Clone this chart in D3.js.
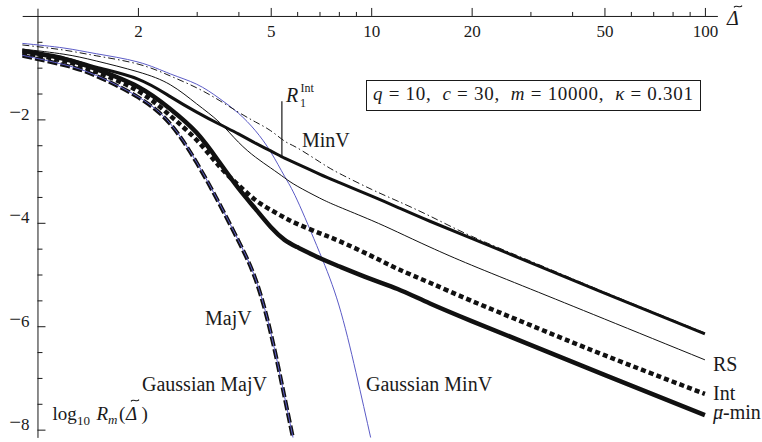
<!DOCTYPE html>
<html lang="en">

<head>
    <meta charset="UTF-8">
    <title>log10 Rm</title>
    <script src="https://cdnjs.cloudflare.com/ajax/libs/d3/7.8.5/d3.min.js"></script>
    <style>
        body { margin: 0; background: #fff; }
        svg text { font-family: "Liberation Serif", "DejaVu Serif", serif; fill: #1a1a1a; }
    </style>
</head>

<body>
    <svg id="chart" width="762" height="442"></svg>

    <script>
        // Delta values shared by the five long curves
        var deltas = [0.9, 1.2, 1.5, 2, 2.5, 3, 3.5, 4, 4.5, 5, 5.5, 6, 7, 8, 10, 12, 15, 20, 30, 50, 100];
        var minV = [-0.66, -0.81, -0.99, -1.22, -1.56, -1.86, -2.09, -2.28, -2.46, -2.61, -2.75, -2.86, -3.06, -3.22, -3.48, -3.70, -3.97, -4.30, -4.77, -5.36, -6.15];
        var minVDashDot = [-0.56, -0.66, -0.77, -0.93, -1.16, -1.39, -1.63, -1.86, -2.05, -2.22, -2.42, -2.55, -2.82, -3.04, -3.35, -3.58, -3.87, -4.26, -4.74, -5.34, -6.13];
        var rs = [-0.64, -0.74, -0.87, -1.08, -1.33, -1.70, -2.05, -2.44, -2.73, -2.94, -3.13, -3.29, -3.52, -3.69, -3.95, -4.18, -4.47, -4.82, -5.28, -5.86, -6.65];
        var intV = [-0.71, -0.87, -1.08, -1.45, -1.93, -2.40, -2.90, -3.27, -3.56, -3.75, -3.90, -4.02, -4.20, -4.35, -4.64, -4.89, -5.16, -5.51, -5.98, -6.56, -7.31];
        var muMin = [-0.68, -0.83, -1.03, -1.37, -1.80, -2.26, -2.82, -3.33, -3.73, -4.08, -4.33, -4.47, -4.68, -4.84, -5.09, -5.28, -5.56, -5.90, -6.36, -6.94, -7.72];

        // Gaussian MinV
        var gaussMinVDeltas = [0.9, 1.2, 1.5, 2, 2.5, 3, 3.5, 4, 4.5, 5, 5.5, 6, 7, 8, 9, 10];
        var gaussMinV = [-0.53, -0.62, -0.73, -0.89, -1.12, -1.32, -1.59, -1.88, -2.22, -2.63, -3.10, -3.56, -4.57, -5.59, -6.89, -8.20];

        // MajV and Gaussian MajV (almost on top of each other)
        var majVDeltas = [0.9, 1.2, 1.5, 2, 2.5, 3, 3.5, 4, 4.5, 5, 5.5, 6];
        var majV = [-0.77, -0.95, -1.16, -1.57, -2.09, -2.84, -3.62, -4.35, -5.09, -6.13, -7.37, -8.55];
        var gaussMajV = [-0.76, -0.94, -1.15, -1.56, -2.08, -2.83, -3.61, -4.34, -5.08, -6.12, -7.36, -8.54];

        var xMajorTicks = [2, 5, 10, 20, 50, 100];
        var xMinorTicks = [3, 4, 6, 7, 8, 9, 30, 40, 60, 70, 80, 90];
        var yMajorTicks = [-2, -4, -6, -8];
        var yMinorTicks = [-0.5, -1, -1.5, -2.5, -3, -3.5, -4.5, -5, -5.5, -6.5, -7, -7.5];
        var r1Int = 5.4;

        var svg = d3.select("#chart");

        var x = d3.scaleLog()
            .domain([0.9, 109])
            .range([22.2, 717.4]);
        var y = d3.scaleLinear()
            .domain([0.15, -8.15])
            .range([8.2, 437.4]);

        function pairs(xs, ys) {
            return xs.map(function (d, i) { return [d, ys[i]]; });
        }

        var series = [
            { name: "gaussMinV", values: pairs(gaussMinVDeltas, gaussMinV), color: "#5b5bc6", width: 1, dash: null },
            { name: "minVDashDot", values: pairs(deltas, minVDashDot), color: "#1a1a1a", width: 1, dash: "7,3,1.5,3" },
            { name: "rs", values: pairs(deltas, rs), color: "#111", width: 1, dash: null },
            { name: "minV", values: pairs(deltas, minV), color: "#111", width: 3, dash: null },
            { name: "int", values: pairs(deltas, intV), color: "#111", width: 4.5, dash: "5,3.2" },
            { name: "muMin", values: pairs(deltas, muMin), color: "#111", width: 4.5, dash: null },
            { name: "majV", values: pairs(majVDeltas, majV), color: "#111", width: 4, dash: "10,3" },
            { name: "gaussMajV", values: pairs(majVDeltas, gaussMajV), color: "#5b5bc6", width: 1, dash: null }
        ];

        svg.append("clipPath").attr("id", "plotClip")
            .append("rect")
            .attr("x", x.range()[0]).attr("y", y.range()[0])
            .attr("width", x.range()[1] - x.range()[0])
            .attr("height", y.range()[1] - y.range()[0]);

        // top x axis (sits at log10 R = 0), ticks up, labels below
        svg.append("g")
            .attr("transform", "translate(0," + y(0) + ")")
            .call(d3.axisBottom(x).tickValues(xMajorTicks).tickFormat(d3.format("d"))
                .tickSizeInner(-8).tickSizeOuter(0).tickPadding(9));
        svg.append("g")
            .attr("transform", "translate(0," + y(0) + ")")
            .call(d3.axisBottom(x).tickValues(xMinorTicks).tickFormat("")
                .tickSizeInner(-4).tickSizeOuter(0))
            .call(function (g) { g.select(".domain").remove(); });

        // y axis at Delta = 1, ticks to the right, labels on the left
        var yAxisG = svg.append("g")
            .attr("transform", "translate(" + x(1) + ",0)")
            .call(d3.axisLeft(y).tickValues(yMajorTicks).tickFormat("")
                .tickSizeInner(-8).tickSizeOuter(0).tickPadding(8));
        svg.append("g")
            .attr("transform", "translate(" + x(1) + ",0)")
            .call(d3.axisLeft(y).tickValues(yMinorTicks).tickFormat("")
                .tickSizeInner(-5).tickSizeOuter(0))
            .call(function (g) { g.select(".domain").remove(); });

        svg.selectAll(".domain, .tick line").attr("stroke", "#1a1a1a").attr("stroke-width", 1);
        svg.selectAll(".tick text")
            .style("font-family", "Liberation Serif")
            .style("font-size", "17px")
            .attr("fill", "#1a1a1a");

        // y labels: a wide math minus followed by the digit
        yAxisG.selectAll(".tick text")
            .attr("dy", "0.35em")
            .each(function (d) {
                var t = d3.select(this);
                t.append("tspan").style("font-size", "21px").attr("dy", "-0.05em").text("\u2212");
                t.append("tspan").attr("dy", "0.05em").text(Math.abs(d));
            });

        // curves
        var line = d3.line()
            .x(function (d) { return x(d[0]); })
            .y(function (d) { return y(d[1]); })
            .curve(d3.curveNatural);

        svg.append("g")
            .attr("clip-path", "url(#plotClip)")
            .selectAll("path")
            .data(series)
            .enter()
            .append("path")
            .attr("class", function (d) { return d.name; })
            .attr("d", function (d) { return line(d.values); })
            .attr("fill", "none")
            .attr("stroke", function (d) { return d.color; })
            .attr("stroke-width", function (d) { return d.width; })
            .attr("stroke-dasharray", function (d) { return d.dash; });

        // R1^Int marker on the MinV curve
        var minVAtR1 = d3.scaleLog().domain(deltas).range(minV)(r1Int);
        svg.append("line")
            .attr("x1", x(r1Int)).attr("x2", x(r1Int))
            .attr("y1", y(minVAtR1)).attr("y2", y(-1.65))
            .attr("stroke", "#1a1a1a").attr("stroke-width", 1.2);

        svg.append("text").attr("x", 286).attr("y", 102)
            .style("font-size", "20px").style("font-style", "italic").text("R");
        svg.append("text").attr("x", 300).attr("y", 107)
            .style("font-size", "12px").text("1");
        svg.append("text").attr("x", 300.5).attr("y", 92)
            .style("font-size", "12px").text("Int");

        // small tilde accent drawn above a letter
        function tilde(cx, cy, w) {
            var h = w * 0.22;
            svg.append("path")
                .attr("d", "M" + (cx - w / 2) + "," + (cy + h / 2) +
                    " C" + (cx - w / 4) + "," + (cy - h * 1.4) + " " + (cx + w / 4) + "," + (cy + h * 1.4) +
                    " " + (cx + w / 2) + "," + (cy - h / 2))
                .attr("fill", "none").attr("stroke", "#1a1a1a").attr("stroke-width", 1.1);
        }

        // text labels
        var labels = [
            { t: "MinV", x: 302, y: 147 },
            { t: "MajV", x: 205, y: 325 },
            { t: "Gaussian MajV", x: 142, y: 391 },
            { t: "Gaussian MinV", x: 366, y: 391 },
            { t: "RS", x: 713, y: 371 },
            { t: "Int", x: 713, y: 400 }
        ];
        svg.selectAll(".lbl")
            .data(labels)
            .enter()
            .append("text")
            .attr("class", "lbl")
            .attr("x", function (d) { return d.x; })
            .attr("y", function (d) { return d.y; })
            .style("font-size", "20px")
            .text(function (d) { return d.t; });

        var mu = svg.append("text").attr("x", 713).attr("y", 419).style("font-size", "20px");
        mu.append("tspan").style("font-style", "italic").text("\u03bc");
        mu.append("tspan").text("-min");
        tilde(719.5, 410, 7);

        // axis titles
        svg.append("text")
            .attr("x", 727).attr("y", 25)
            .style("font-size", "20px").style("font-style", "italic")
            .text("\u0394");
        tilde(738, 6.5, 8);

        var yl = svg.append("text").attr("y", 420).style("font-size", "19px");
        yl.append("tspan").attr("x", 52.5).text("log");
        yl.append("tspan").attr("x", 77).attr("y", 425).style("font-size", "13px").text("10");
        yl.append("tspan").attr("x", 96.5).attr("y", 420).style("font-style", "italic").text("R");
        yl.append("tspan").attr("x", 108).attr("y", 424).style("font-size", "13px").style("font-style", "italic").text("m");
        yl.append("tspan").attr("x", 119).attr("y", 420).text("(");
        yl.append("tspan").attr("x", 126).style("font-style", "italic").text("\u0394");
        yl.append("tspan").attr("x", 141.5).text(")");
        tilde(135, 400.5, 8);

        // parameter box
        svg.append("rect")
            .attr("x", 366.5).attr("y", 80.5)
            .attr("width", 334).attr("height", 30)
            .attr("fill", "#fff").attr("stroke", "#1a1a1a").attr("stroke-width", 1);
        var box = svg.append("text").attr("x", 373).attr("y", 100)
            .style("font-size", "19px")
            .attr("textLength", 320).attr("lengthAdjust", "spacing");
        var parts = [["q", true], [" = 10,  ", false], ["c", true], [" = 30,  ", false],
            ["m", true], [" = 10000,  ", false], ["\u03ba", true], [" = 0.301", false]];
        parts.forEach(function (p) {
            box.append("tspan").style("font-style", p[1] ? "italic" : "normal").text(p[0]);
        });
        box.style("white-space", "pre");
    </script>
</body>

</html>
